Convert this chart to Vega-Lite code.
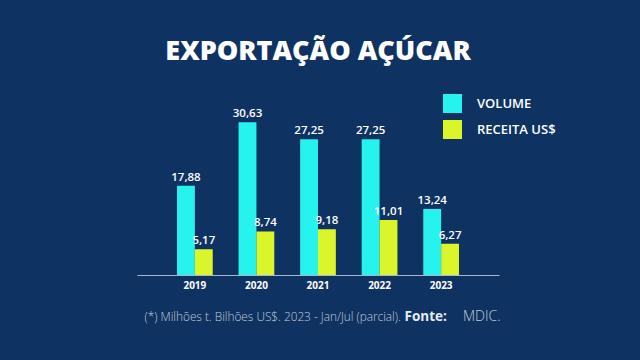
{
  "$schema": "https://vega.github.io/schema/vega-lite/v6.json",
  "autosize": "none",
  "width": 362,
  "height": 165,
  "padding": {"left": 137, "top": 110, "right": 141, "bottom": 85},
  "background": "#0e3363",
  "title": {
    "text": "EXPORTAÇÃO AÇÚCAR",
    "anchor": "middle",
    "frame": "group",
    "font": "Open Sans",
    "fontSize": 27,
    "fontWeight": 800,
    "color": "#ffffff",
    "baseline": "alphabetic",
    "offset": 7
  },
  "data": {
    "values": [
      {"year": "2019", "series": "VOLUME", "value": 17.88},
      {"year": "2019", "series": "RECEITA US$", "value": 5.17},
      {"year": "2020", "series": "VOLUME", "value": 30.63},
      {"year": "2020", "series": "RECEITA US$", "value": 8.74},
      {"year": "2021", "series": "VOLUME", "value": 27.25},
      {"year": "2021", "series": "RECEITA US$", "value": 9.18},
      {"year": "2022", "series": "VOLUME", "value": 27.25},
      {"year": "2022", "series": "RECEITA US$", "value": 11.01},
      {"year": "2023", "series": "VOLUME", "value": 13.24},
      {"year": "2023", "series": "RECEITA US$", "value": 6.27}
    ]
  },
  "encoding": {
    "x": {
      "field": "year",
      "type": "nominal",
      "scale": {"paddingInner": 0.42, "paddingOuter": 0.65}
    },
    "xOffset": {
      "field": "series",
      "type": "nominal",
      "scale": {"domain": ["VOLUME", "RECEITA US$"], "paddingInner": 0, "paddingOuter": 0}
    },
    "y": {
      "field": "value",
      "type": "quantitative",
      "scale": {"domain": [0, 33.1], "nice": false, "zero": true},
      "axis": null
    }
  },
  "layer": [
    {
      "mark": {"type": "bar", "cornerRadius": 0},
      "encoding": {
        "x": {
          "field": "year",
          "type": "nominal",
          "axis": {
            "orient": "bottom",
            "title": "(*) Milhões t. Bilhões US$. 2023 - Jan/Jul (parcial).",
            "titleX": 7,
            "titleY": 41,
            "titleAlign": "left",
            "titleAnchor": null,
            "titleBaseline": "middle",
            "titleFont": "Open Sans",
            "titleFontSize": 11.8,
            "titleFontWeight": 300,
            "titleColor": "#c3cbd8",
            "labelAngle": 0,
            "labelFont": "Open Sans",
            "labelFontSize": 10,
            "labelFontWeight": 700,
            "labelColor": "#ffffff",
            "labelPadding": 5,
            "ticks": false,
            "grid": false,
            "domain": true,
            "domainColor": "#a9b6cb",
            "domainWidth": 1.2
          }
        },
        "color": {
          "field": "series",
          "type": "nominal",
          "scale": {"domain": ["VOLUME", "RECEITA US$"], "range": ["#26f2ee", "#dbf52b"]},
          "legend": {
            "orient": "none",
            "legendX": 306,
            "legendY": -16,
            "title": null,
            "padding": 0,
            "symbolType": "square",
            "symbolSize": 361,
            "symbolStrokeWidth": 0,
            "symbolOpacity": 1,
            "rowPadding": 7,
            "labelOffset": 15,
            "labelFont": "Open Sans",
            "labelFontSize": 13,
            "labelFontWeight": 600,
            "labelColor": "#ffffff"
          }
        }
      }
    },
    {
      "transform": [{"filter": "datum.series === 'VOLUME'"}],
      "mark": {"type": "text", "baseline": "alphabetic", "dy": -5, "font": "Open Sans", "fontSize": 11.5, "fontWeight": 600, "color": "#ffffff"},
      "encoding": {
        "x": {
          "field": "year",
          "type": "nominal",
          "axis": {
            "orient": "bottom",
            "title": "Fonte:",
            "titleX": 267,
            "titleY": 41,
            "titleAlign": "left",
            "titleAnchor": null,
            "titleBaseline": "middle",
            "titleFont": "Open Sans",
            "titleFontSize": 13.5,
            "titleFontWeight": 700,
            "titleColor": "#e6ebf2",
            "labels": false,
            "ticks": false,
            "grid": false,
            "domain": false
          }
        },
        "text": {"field": "value", "type": "quantitative", "format": ".2f"}
      }
    },
    {
      "transform": [{"filter": "datum.series === 'RECEITA US$'"}],
      "mark": {"type": "text", "baseline": "alphabetic", "dy": -5, "font": "Open Sans", "fontSize": 11.5, "fontWeight": 600, "color": "#ffffff"},
      "encoding": {
        "x": {
          "field": "year",
          "type": "nominal",
          "axis": {
            "orient": "bottom",
            "title": "MDIC.",
            "titleX": 363,
            "titleY": 41,
            "titleAlign": "right",
            "titleAnchor": null,
            "titleBaseline": "middle",
            "titleFont": "Open Sans",
            "titleFontSize": 14,
            "titleFontWeight": 300,
            "titleColor": "#c3cbd8",
            "labels": false,
            "ticks": false,
            "grid": false,
            "domain": false
          }
        },
        "text": {"field": "value", "type": "quantitative", "format": ".2f"}
      }
    }
  ],
  "resolve": {"axis": {"x": "independent"}},
  "config": {
    "view": {"stroke": null},
    "locale": {"number": {"decimal": ",", "thousands": ".", "grouping": [3], "currency": ["", ""]}}
  }
}
